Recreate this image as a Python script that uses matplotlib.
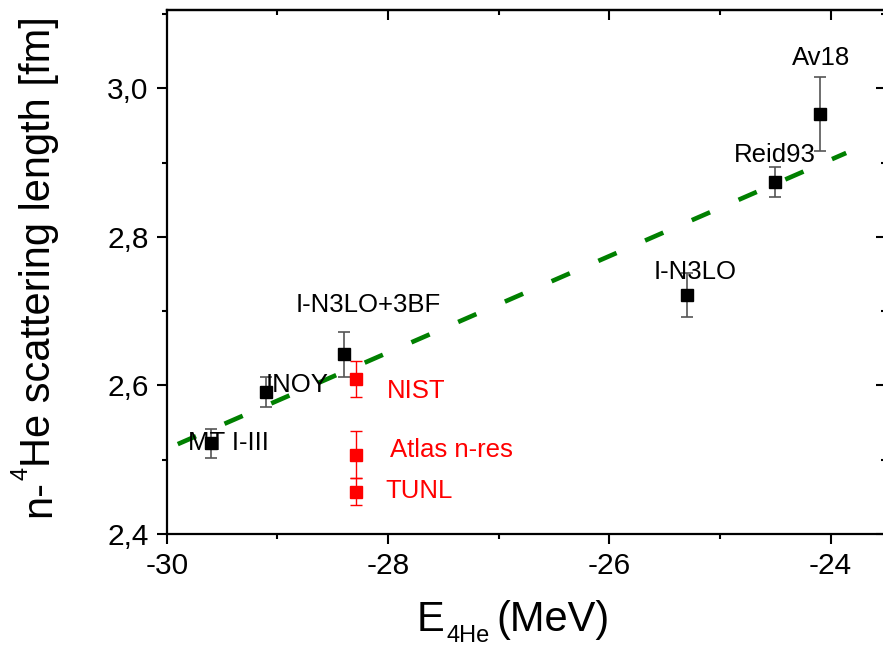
import matplotlib
matplotlib.use('Agg')
import matplotlib.pyplot as plt
from matplotlib.ticker import MultipleLocator
from matplotlib.transforms import IdentityTransform

plt.rcParams['font.family'] = ['Liberation Sans', 'DejaVu Sans']
plt.rcParams['lines.scale_dashes'] = False

# calculations with different NN potentials
model_names = ['MT I-III', 'INOY', 'I-N3LO+3BF', 'I-N3LO', 'Reid93', 'Av18']
model_E = [-29.6, -29.1, -28.4, -25.3, -24.5, -24.1]
model_a = [2.522, 2.591, 2.642, 2.722, 2.874, 2.965]
model_err = [0.02, 0.02, 0.03, 0.03, 0.02, 0.05]

# measurements
exp_names = ['NIST', 'Atlas n-res', 'TUNL']
exp_E = [-28.29, -28.29, -28.29]
exp_a = [2.609, 2.507, 2.457]
exp_err = [0.024, 0.032, 0.018]

# linear correlation line
fit_E = [-29.9, -23.86]
fit_a = [2.521, 2.913]

x_ticks = [-30, -28, -26, -24]
x_ticklabels = ['-30', '-28', '-26', '-24']
y_ticks = [2.4, 2.6, 2.8, 3.0]
y_ticklabels = ['2,4', '2,6', '2,8', '3,0']

# label offsets (points) and alignment for each point
model_offsets = [(-16.3, -4.8), (-0.7, 0.4), (17.9, 30.2), (5.8, 11.5), (-0.4, 14.4), (0.8, 35.3)]
model_ha = ['left', 'left', 'center', 'center', 'center', 'center']
exp_offsets = [(22.3, -14.1), (24.7, -1.7), (21.1, -4.5)]

fig = plt.figure(figsize=(8.83, 6.48), dpi=100)
ax = fig.add_axes([166.7 / 883, 114 / 648, 719.3 / 883, 524.4 / 648])

ax.errorbar(model_E, model_a, yerr=model_err, fmt='s', color='black', ms=8,
            ecolor='#555555', elinewidth=1.2, capsize=4, capthick=1.2, zorder=2)
ax.errorbar(exp_E, exp_a, yerr=exp_err, fmt='s', color='red', ms=8,
            ecolor='red', elinewidth=1.0, capsize=4, capthick=1.0, zorder=2)
ax.plot(fit_E, fit_a, color='#008000', lw=3.3, dashes=(14.3, 22.4), zorder=3)

for name, x, y, off, ha in zip(model_names, model_E, model_a, model_offsets, model_ha):
    ax.annotate(name, (x, y), xytext=off, textcoords='offset points',
                ha=ha, va='baseline', fontsize=18.5, color='black', zorder=4)
for name, x, y, off in zip(exp_names, exp_E, exp_a, exp_offsets):
    ax.annotate(name, (x, y), xytext=off, textcoords='offset points',
                ha='left', va='baseline', fontsize=18.5, color='red', zorder=4)

ax.set_xlim(-30, -23.5)
ax.set_ylim(2.4, 3.106)
ax.set_xticks(x_ticks)
ax.set_xticklabels(x_ticklabels)
ax.set_yticks(y_ticks)
ax.set_yticklabels(y_ticklabels)
ax.xaxis.set_minor_locator(MultipleLocator(1))
ax.yaxis.set_minor_locator(MultipleLocator(0.1))
ax.tick_params(which='major', direction='out', length=7, width=1.5, labelsize=21.5, pad=6)
ax.tick_params(which='minor', direction='out', length=3.5, width=1.5)
for sp in ax.spines.values():
    sp.set_linewidth(1.6)

# inward ticks on top and right
top = ax.secondary_xaxis('top')
top.set_xticks(x_ticks)
top.xaxis.set_minor_locator(MultipleLocator(1))
top.tick_params(which='major', direction='in', length=7, width=1.5, labeltop=False)
top.tick_params(which='minor', direction='in', length=3.5, width=1.5)
top.spines['top'].set_linewidth(1.6)
right = ax.secondary_yaxis('right')
right.set_yticks(y_ticks)
right.yaxis.set_minor_locator(MultipleLocator(0.1))
right.tick_params(which='major', direction='in', length=7, width=1.5, labelright=False)
right.tick_params(which='minor', direction='in', length=3.5, width=1.5)
right.spines['right'].set_linewidth(1.6)

# axis titles with sub/superscripts assembled from pieces
fig.canvas.draw()
r = fig.canvas.get_renderer()
px = IdentityTransform()

t = fig.text(417, 17, 'E', fontsize=30, transform=px, ha='left', va='baseline')
x1 = t.get_window_extent(r).x1
t = fig.text(x1 + 2, 5.5, '4He', fontsize=17, transform=px, ha='left', va='baseline')
x1 = t.get_window_extent(r).x1
fig.text(x1 + 6, 17, '(MeV)', fontsize=30, transform=px, ha='left', va='baseline')

t = fig.text(50, 131.3, 'n-', fontsize=30, transform=px, rotation=90,
             rotation_mode='anchor', ha='left', va='baseline')
y1 = t.get_window_extent(r).y1
t = fig.text(27, y1, '4', fontsize=17, transform=px, rotation=90,
             rotation_mode='anchor', ha='left', va='baseline')
y1 = t.get_window_extent(r).y1
fig.text(50, y1, 'He scattering length [fm]', fontsize=30, transform=px, rotation=90,
         rotation_mode='anchor', ha='left', va='baseline')

fig.savefig('out.png', dpi=100)
